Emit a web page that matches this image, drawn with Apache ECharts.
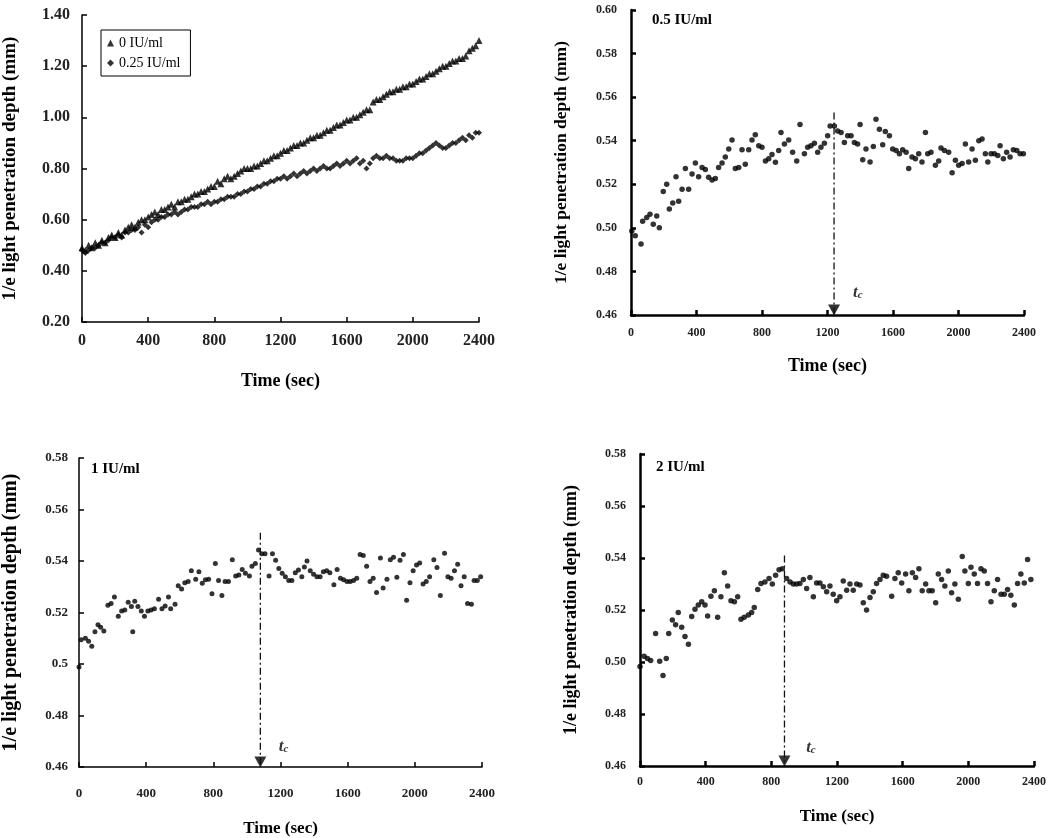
<!DOCTYPE html>
<html><head><meta charset="utf-8">
<script src="https://cdn.jsdelivr.net/npm/echarts@6/dist/echarts.min.js"></script>
<style>html,body{margin:0;padding:0;background:#fff}#c{width:1050px;height:838px}</style>
</head><body><div id="c"></div>
<script>
// ---------- data ----------
const xTickLabels = ['0','400','800','1200','1600','2000','2400'];
const p1YLabels = ['0.20','0.40','0.60','0.80','1.00','1.20','1.40'];
const p2YLabels = ['0.46','0.48','0.50','0.52','0.54','0.56','0.58','0.60'];
const p3YLabels = ['0.46','0.48','0.5','0.52','0.54','0.56','0.58'];
const p4YLabels = ['0.46','0.48','0.50','0.52','0.54','0.56','0.58'];
const seriesNames = ['0 IU/ml','0.25 IU/ml'];
const panelTitles = ['0.5 IU/ml','1 IU/ml','2 IU/ml'];

const p1Time = [0,20,40,60,80,100,120,140,160,180,200,220,240,260,280,300,320,340,360,380,400,420,440,460,480,500,520,540,560,580,600,620,640,660,680,700,720,740,760,780,800,820,840,860,880,900,920,940,960,980,1000,1020,1040,1060,1080,1100,1120,1140,1160,1180,1200,1220,1240,1260,1280,1300,1320,1340,1360,1380,1400,1420,1440,1460,1480,1500,1520,1540,1560,1580,1600,1620,1640,1660,1680,1700,1720,1740,1760,1780,1800,1820,1840,1860,1880,1900,1920,1940,1960,1980,2000,2020,2040,2060,2080,2100,2120,2140,2160,2180,2200,2220,2240,2260,2280,2300,2320,2340,2360,2380,2400];
const p1Zero = [0.49,0.48,0.50,0.49,0.51,0.50, 0.52,0.51,0.53,0.54,0.53, 0.55,0.54,0.56,0.57,0.58, 0.57,0.59,0.60,0.60,0.61, 0.62,0.63,0.62,0.64,0.64, 0.65,0.66,0.65,0.67,0.67, 0.68,0.68,0.69,0.70,0.70, 0.71,0.71,0.72,0.73,0.73, 0.75,0.74,0.76,0.77,0.76, 0.77,0.78,0.79,0.80,0.80, 0.80,0.81,0.81,0.82,0.83, 0.83,0.84,0.85,0.85,0.86, 0.87,0.87,0.88,0.89,0.89, 0.90,0.90,0.91,0.92,0.92, 0.93,0.93,0.94,0.95,0.95, 0.96,0.97,0.97,0.98,0.99, 0.99,1.00,1.00,1.01,1.02, 1.03,1.03,1.06,1.07,1.07, 1.08,1.09,1.10,1.10,1.11, 1.11,1.12,1.12,1.13,1.13, 1.14,1.15,1.15,1.16,1.17, 1.17,1.18,1.19,1.20,1.20, 1.21,1.22,1.22,1.23,1.23, 1.24,1.26,1.27,1.28,1.30];
const p1Quarter = [0.48,0.47,0.48,0.49,0.49,0.50, 0.51,0.51,0.52,0.53,0.53, 0.54,0.53,0.55,0.55,0.56, 0.56,0.57,0.55,0.58,0.57, 0.59,0.60,0.60,0.61,0.61, 0.62,0.62,0.63,0.62,0.63, 0.64,0.64,0.65,0.65,0.65, 0.66,0.66,0.67,0.66,0.67, 0.67,0.68,0.68,0.69,0.69, 0.69,0.70,0.70,0.71,0.71, 0.72,0.72,0.73,0.73,0.74, 0.74,0.75,0.75,0.76,0.76, 0.77,0.76,0.77,0.78,0.77, 0.78,0.79,0.78,0.79,0.80, 0.79,0.80,0.81,0.80,0.80, 0.81,0.82,0.81,0.82,0.83, 0.82,0.83,0.84,0.82,0.83, 0.80,0.82,0.84,0.85,0.84, 0.84,0.85,0.84,0.84,0.83, 0.83,0.83,0.84,0.84,0.84, 0.85,0.86,0.86,0.87,0.88, 0.89,0.90,0.89,0.88,0.88, 0.89,0.90,0.90,0.91,0.92, 0.91,0.93,0.92,0.94,0.94];

const p2Time = [5,26,61,71,96,116,136,157,173,197, 218,234,255,275,291,312,332,352,373,393, 413,434,454,474,495,515,535,556,576,597, 617,637,658,678,698,719,739,759,780,800, 821,841,861,882,902,916,937,963,987,1012, 1032,1059,1079,1099,1120,1140,1160,1181,1201,1216, 1242,1262,1283,1303,1323,1344,1364,1384,1399,1415, 1435,1460,1480,1496,1517,1537,1553,1578,1598,1619, 1639,1659,1680,1696,1716,1737,1757,1777,1798,1812, 1832,1859,1879,1893,1914,1940,1961,1981,2001,2022, 2042,2062,2083,2103,2124,2144,2164,2179,2199,2219, 2240,2254,2274,2294,2315,2335,2356,2376,2396];
const p2Val = [0.4986,0.4964,0.4926,0.503,0.5047,0.5062,0.5016,0.5054,0.5001,0.5167, 0.52,0.5087,0.5114,0.5235,0.5122,0.5177,0.5272,0.5177,0.5247,0.5298, 0.5235,0.5277,0.5268,0.5232,0.522,0.5227,0.5277,0.5298,0.5325,0.5362, 0.5403,0.5272,0.5277,0.5358,0.5292,0.5358,0.5403,0.5427,0.5377,0.537, 0.5307,0.5317,0.5337,0.5301,0.5355,0.5438,0.5385,0.5403,0.5347,0.5307, 0.5475,0.534,0.537,0.5377,0.5388,0.5347,0.537,0.5388,0.5423,0.5468, 0.5468,0.5445,0.5438,0.5392,0.5423,0.5423,0.5392,0.5385,0.5475,0.5313, 0.5362,0.5302,0.5373,0.5498,0.5453,0.5382,0.5442,0.5423,0.5362,0.5355, 0.534,0.5358,0.5347,0.5272,0.5325,0.5317,0.534,0.5302,0.5438,0.534, 0.5347,0.5287,0.5307,0.5367,0.5355,0.5347,0.5253,0.531,0.5287,0.5295, 0.5385,0.5302,0.5362,0.531,0.54,0.5408,0.534,0.5302,0.534,0.534, 0.5332,0.5377,0.5317,0.5347,0.5325,0.5358,0.5355,0.534,0.534];

const p3Time = [0,13,38,57,76,95,113,129,148,172, 191,211,234,254,273,293,312,320,332,351, 371,390,410,429,449,474,494,513,533,546, 572,591,611,630,650,669,695,714,734,753, 772,792,812,831,851,870,890,913,933,952, 972,991,1015,1030,1050,1069,1089,1108,1132,1152, 1171,1190,1210,1229,1249,1268,1288,1307,1327,1342, 1358,1377,1397,1417,1436,1455,1475,1494,1518,1537, 1557,1576,1596,1615,1635,1654,1674,1693,1713,1733, 1752,1772,1795,1811,1834,1854,1873,1893,1912,1932, 1951,1971,1990,2010,2029,2049,2068,2088,2113,2132, 2152,2177,2197,2216,2236,2255,2275,2294,2314,2337, 2353,2372,2392];
const p3Val = [0.4988,0.5094,0.51,0.5088,0.5069,0.5125,0.5152,0.5143,0.5128,0.5228, 0.5235,0.526,0.5185,0.5206,0.521,0.524,0.5223,0.5125,0.5244,0.5223, 0.5206,0.5185,0.5206,0.521,0.5215,0.5251,0.5215,0.5225,0.526,0.5215, 0.5232,0.5304,0.5291,0.5316,0.532,0.5362,0.5329,0.5358,0.5314,0.5327, 0.5329,0.5273,0.539,0.5324,0.5266,0.532,0.532,0.5405,0.5342,0.5346, 0.5367,0.5352,0.5342,0.538,0.539,0.5443,0.5428,0.5428,0.5342,0.5428, 0.5403,0.5371,0.5352,0.5339,0.5324,0.5324,0.5354,0.5365,0.5339,0.5377, 0.54,0.5362,0.5349,0.5339,0.5339,0.5358,0.5362,0.5354,0.5308,0.5367, 0.5333,0.5327,0.532,0.532,0.5324,0.5333,0.5425,0.5421,0.538,0.532, 0.5333,0.5278,0.5412,0.5295,0.5329,0.5405,0.5415,0.5337,0.5403,0.5425, 0.5248,0.5316,0.5362,0.5384,0.5392,0.5311,0.532,0.5339,0.5405,0.5375, 0.5266,0.543,0.5339,0.5333,0.5362,0.5387,0.5304,0.5339,0.5235,0.5232, 0.5324,0.5324,0.5339];

const p4Time = [0,25,45,65,95,120,140,160,175,197, 217,233,254,274,295,315,335,355,376,396, 412,432,453,473,493,514,534,554,575,595, 615,635,660,680,696,717,737,761,786,806, 826,847,867,893,914,934,954,974,995,1015, 1035,1056,1076,1096,1117,1137,1157,1177,1198,1218, 1238,1259,1279,1299,1320,1340,1360,1380,1401,1421, 1441,1462,1482,1502,1533,1553,1573,1594,1618,1638, 1659,1679,1699,1719,1740,1760,1780,1801,1817,1837, 1857,1878,1898,1918,1939,1963,1979,2000,2016,2036, 2056,2077,2097,2117,2138,2158,2178,2199,2219,2239, 2259,2280,2300,2320,2341,2361,2381,2402];
const p4Val = [0.4983,0.5022,0.5013,0.5006,0.511,0.5003,0.4948,0.5013,0.511,0.5162, 0.5143,0.519,0.5134,0.5098,0.5068,0.5175,0.5203,0.5219,0.5232,0.5219, 0.5177,0.5253,0.5274,0.5172,0.5251,0.5343,0.5292,0.5236,0.5232,0.5251, 0.5164,0.5172,0.5181,0.519,0.521,0.5279,0.5302,0.5308,0.5321,0.53, 0.5334,0.5355,0.5359,0.5321,0.5308,0.53,0.53,0.5302,0.5317,0.5283, 0.5325,0.5251,0.5304,0.5304,0.5289,0.527,0.5292,0.5261,0.5236,0.5251, 0.5312,0.5276,0.53,0.5276,0.53,0.5296,0.5228,0.52,0.5248,0.527, 0.5302,0.5317,0.5334,0.533,0.5253,0.5321,0.5343,0.5304,0.5338,0.5274, 0.5343,0.5325,0.5359,0.5274,0.53,0.5274,0.5274,0.5228,0.5338,0.5317, 0.5292,0.535,0.5266,0.53,0.5241,0.5406,0.535,0.5302,0.5364,0.5338, 0.5302,0.5359,0.535,0.5302,0.5232,0.5274,0.5317,0.5261,0.5261,0.5279, 0.5257,0.5219,0.5302,0.5338,0.5304,0.5394,0.5317,0.5289];

// critical time t_c markers (panels 2,3,4)
const tcTime = [1240, 1080, 880];
const tcTop = [0.553, 0.551, 0.541];
const tcLabelTime = [1356, 1189, 1012];
const tcLabelVal = [0.4715, 0.4689, 0.4681];

// ---------- build ----------
const FONT = "'Liberation Serif','Times New Roman',serif";
const zip = (a, b) => a.map((v, i) => [v, b[i]]);

const grids = [
  {left: 79, top: 15, width: 400, height: 307},
  {left: 631, top: 10, width: 393, height: 305},
  {left: 72, top: 458, width: 410, height: 310},
  {left: 640, top: 454, width: 394, height: 312}
];
const yCfg = [
  {min: 0.2, max: 1.4, interval: 0.2, labels: p1YLabels, lw: 1.5, fs: 16, nfs: 19, gap: 62, lm: 12},
  {min: 0.46, max: 0.60, interval: 0.02, labels: p2YLabels, lw: 2.5, fs: 12, nfs: 17.5, gap: 61, lm: 14},
  {min: 0.46, max: 0.58, interval: 0.02, labels: p3YLabels, lw: 1.5, fs: 13, nfs: 20, gap: 58, lm: 11},
  {min: 0.46, max: 0.58, interval: 0.02, labels: p4YLabels, lw: 2.5, fs: 12, nfs: 18, gap: 60, lm: 14}
];
const xCfg = [
  {fs: 16, margin: 11, gap: 50, nfs: 18},
  {fs: 12, margin: 12, gap: 42, nfs: 18},
  {fs: 13, margin: 20, gap: 53, nfs: 17},
  {fs: 12, margin: 10, gap: 42, nfs: 17}
];

const xAxes = grids.map((g, i) => ({
  type: 'value', gridIndex: i, min: 0, max: 2400, interval: 400,
  name: 'Time (sec)', nameLocation: 'middle', nameGap: xCfg[i].gap,
  nameTextStyle: {fontFamily: FONT, fontWeight: 'bold', fontSize: xCfg[i].nfs, color: '#000'},
  axisLine: {show: true, lineStyle: {color: '#000', width: yCfg[i].lw}},
  axisTick: {show: true, inside: true, length: 5, lineStyle: {color: '#000', width: yCfg[i].lw}},
  axisLabel: {fontFamily: FONT, fontWeight: 'bold', fontSize: xCfg[i].fs, color: '#222', margin: xCfg[i].margin,
    formatter: v => xTickLabels[Math.round(v / 400)]},
  splitLine: {show: false}
}));
const yAxes = yCfg.map((c, i) => ({
  type: 'value', gridIndex: i, min: c.min, max: c.max, interval: c.interval,
  name: '1/e light penetration depth (mm)', nameLocation: 'middle', nameGap: c.gap, nameRotate: 90,
  nameTextStyle: {fontFamily: FONT, fontWeight: 'bold', fontSize: c.nfs, color: '#000'},
  axisLine: {show: true, lineStyle: {color: '#000', width: c.lw}},
  axisTick: {show: true, inside: true, length: 5, lineStyle: {color: '#000', width: c.lw}},
  axisLabel: {fontFamily: FONT, fontWeight: 'bold', fontSize: c.fs, color: '#222', margin: c.lm,
    formatter: v => c.labels[Math.round((v - c.min) / c.interval)]},
  splitLine: {show: false}
}));

const series = [
  {name: seriesNames[0], type: 'scatter', xAxisIndex: 0, yAxisIndex: 0, symbol: 'triangle', symbolSize: 7,
   itemStyle: {color: '#000'}, data: zip(p1Time, p1Zero)},
  {name: seriesNames[1], type: 'scatter', xAxisIndex: 0, yAxisIndex: 0, symbol: 'diamond', symbolSize: 6,
   itemStyle: {color: '#000'}, data: zip(p1Time, p1Quarter)},
  {type: 'scatter', xAxisIndex: 1, yAxisIndex: 1, symbol: 'circle', symbolSize: 5.5, itemStyle: {color: '#000'}, data: zip(p2Time, p2Val)},
  {type: 'scatter', xAxisIndex: 2, yAxisIndex: 2, symbol: 'circle', symbolSize: 5, itemStyle: {color: '#000'}, data: zip(p3Time, p3Val)},
  {type: 'scatter', xAxisIndex: 3, yAxisIndex: 3, symbol: 'circle', symbolSize: 5.5, itemStyle: {color: '#000'}, data: zip(p4Time, p4Val)}
];
tcTime.forEach((t, k) => {
  const i = k + 1;
  const ymin = yCfg[i].min;
  series.push({
    type: 'line', xAxisIndex: i, yAxisIndex: i, symbol: 'none', silent: true,
    lineStyle: {color: '#111', width: 1.3, type: [7, 3, 2, 3]},
    data: [[t, tcTop[k]], [t, ymin]]
  });
  series.push({
    type: 'scatter', xAxisIndex: i, yAxisIndex: i, symbol: 'triangle', symbolRotate: 180,
    symbolSize: [12, 11], symbolOffset: [0, -5], itemStyle: {color: '#000'}, silent: true,
    data: [[t, ymin]]
  });
  series.push({
    type: 'scatter', xAxisIndex: i, yAxisIndex: i, symbolSize: 0, silent: true,
    label: {show: true, position: 'right', distance: 0,
      formatter: '{t|t}{c|c}',
      rich: {
        t: {fontFamily: FONT, fontStyle: 'italic', fontWeight: 'bold', fontSize: 17, color: '#000', lineHeight: 22, verticalAlign: 'bottom'},
        c: {fontFamily: FONT, fontStyle: 'italic', fontWeight: 'bold', fontSize: 11, color: '#000', lineHeight: 22, verticalAlign: 'bottom', padding: [8, 0, 0, 0]}
      }},
    data: [[tcLabelTime[k], tcLabelVal[k]]]
  });
});

const titleStyle = {fontFamily: FONT, fontWeight: 'bold', fontSize: 15, color: '#000'};
const option = {
  backgroundColor: '#fff',
  animation: false,
  title: [
    {text: panelTitles[0], left: 652, top: 13, padding: 0, textStyle: titleStyle},
    {text: panelTitles[1], left: 91, top: 462, padding: 0, textStyle: titleStyle},
    {text: panelTitles[2], left: 656, top: 460, padding: 0, textStyle: titleStyle}
  ],
  legend: {
    data: seriesNames, left: 101, top: 30, orient: 'vertical',
    borderColor: '#000', borderWidth: 1, borderRadius: 0, padding: [6, 10, 6, 6], itemGap: 6,
    itemWidth: 7, itemHeight: 7,
    textStyle: {fontFamily: FONT, fontSize: 14, color: '#000'}
  },
  grid: grids,
  xAxis: xAxes,
  yAxis: yAxes,
  series: series
};
const chart = echarts.init(document.getElementById('c'), null, {renderer: 'canvas'});
chart.setOption(option);
</script></body></html>
